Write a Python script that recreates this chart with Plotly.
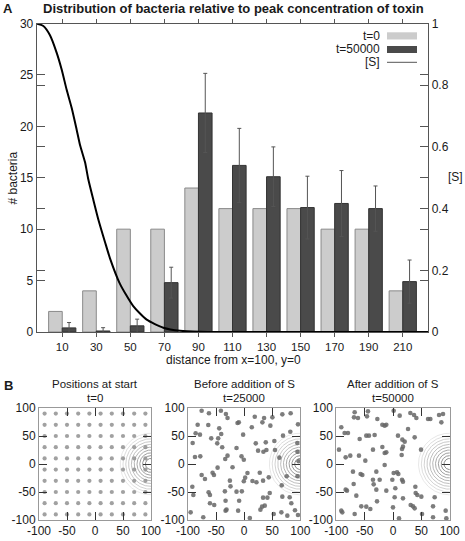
import numpy as np
import plotly.graph_objects as go

W, H = 465, 541

# ---------------- data: panel A ----------------
distance = [10, 30, 50, 70, 90, 110, 130, 150, 170, 190, 210]
count_t0 = [2, 4, 10, 10, 14, 12, 12, 12, 10, 10, 4]
count_t50000 = [0.4, 0.1, 0.6, 4.8, 21.3, 16.2, 15.1, 12.1, 12.5, 12.0, 4.9]
err_t50000 = [0.52, 0.32, 0.65, 1.5, 3.85, 3.6, 2.9, 3.05, 3.2, 2.2, 2.1]

s_x = [-5, -1.1, 2.8, 6.75, 9.7, 12.6, 15.6, 18.5, 20.4, 23.4, 25.3, 28.2, 31.2,
       35.1, 38.1, 43.9, 51.7, 59.6, 69.4, 79.2, 91.0, 110, 150, 225]
s_val = [1.0, 0.992, 0.962, 0.905, 0.850, 0.785, 0.725, 0.655, 0.607, 0.550, 0.495,
         0.430, 0.365, 0.292, 0.238, 0.156, 0.084, 0.040, 0.014, 0.004, 0.001, 0.0, 0.0, 0.0]

y_ticks = [0, 5, 10, 15, 20, 25, 30]
y2_ticks = [0, 0.2, 0.4, 0.6, 0.8, 1.0]
y2_labels = ["0", "0.2", "0.4", "0.6", "0.8", "1"]

# ---------------- data: panel B ----------------
grid_vals = [-90, -70, -50, -30, -10, 10, 30, 50, 70, 90]
b_ticks = [-100, -50, 0, 50, 100]
b_tick_labels = ["-100", "-50", "0", "50", "100"]

b2_x = [-75.7, -62.7, -41.4, -32.5, -29.6, -11.8, -9.5, 18.9, 35.5, 50.3, 68, 82.8,
        -82.8, -63.9, -44.4, 13.6, 32.5, 46.7, 95.9,
        -86.4, -78.7, -58.6, -46.2, -40.8, -1.8, 69.2, 82.2,
        -91.7, -47.9, -39.1, -13.6, 20.7, 38.5, 53.8, 94.7,
        24.8, 34.3, 39.6, 55,
        -87.6, -78.1, -33.7, -29.6, -4.7, -0.6, 62.7, 95, 97,
        -47.3, -20.7,
        -75.7, -56.2, -53.8, -69.8, 5.9, 27.8, 1.8, -0.6, 14.8, 21.9, 33.7, 43.8, -25.4, 75.7, 95,
        -92.3, -63.3, -60.9, -90.5, -34.3, -13.6, -4.1, -24.3, 45.6, 66.9,
        68, 81.1, 33.7, 41.4, -33.1, -8.9, -60.9, -53.3, 31.9, 36.7, 29, 84, -31.4,
        -95.3, -72.8, -33.1, -10.7, 10.1, 52.7, 76.9, 95.9, 66.3, 90.5]
b2_y = [95.2, 90.5, 95.2, 89.3, 82.1, 73.2, 74.4, 84.5, 82.1, 83.3, 88.7, 90.5,
        70.2, 69.6, 63.7, 65.5, 74.4, 68.5, 70.8,
        54.8, 52.4, 45.8, 45.8, 53.6, 52.4, 50.6, 57.7,
        37.5, 36.9, 29.8, 28.6, 36.9, 38.7, 41.1, 37.5,
        23.8, 22, 25, 25,
        12.5, 13.7, 8.9, 14.9, 13.7, 7.7, 11.3, 22, 5,
        -6.5, -5.9,
        -19.6, -15.5, -19.6, -26.8, -16.1, -15.5, -24.4, -30.9, -30.3, -32.7, -29.7, -23.8, -29.7, -22, -22,
        -40.5, -50.6, -55.3, -55.3, -48.8, -49.4, -48.8, -39.9, -51.8, -38.1,
        -58.3, -59.5, -60.1, -60.1, -65.5, -65.5, -70.2, -73.2, -76.2, -74.4, -81.5, -70.2, -81.5,
        -86.3, -95.2, -83.3, -83.3, -96.4, -89.3, -92.2, -91.1, -86.3, -82.7]

b3_x = [-67.6, -44.1, 1.2, 30.6, 37.1, 61.8, 65.9, 81.2, 88.2, 85.3,
        -68.8, -61.8, -45.9, -27.6, -18.8, -14.7, -11.8, 11.8, 41.2,
        -91.2, -85.3, -79.4, -47.1, -42.4, -32.4, -58.8, 8.8, 26.5, 16.5, 20.6, 17.6, 38.2,
        -95.3, -83.5, -75.3, -60, -48.8, -35.3, -18.8, -14.7, -11.8, 15.9, 15.3, -14.7, 49.4,
        -70.6, -57.1, -54.1, -29.4, 1.2, 7.1, 9.4,
        -69.4, -35.3, -34.1, -23.5, -1.2, 15.9, 17.6,
        -83.5, -81.2, -29.4, -11.8, 4.1, 39.4, 40, 42.9,
        -64.7, 17.6, 50, 73.5, 2.9,
        -55.9, -47.1, -40, -28.2, 0, 31.2, 35.3, 38.2, 70.6,
        -91.2, -89.4, -67.6, 10.6, 51.2, 70.6, 92.9, 94.1]
b3_y = [92.3, 94, 95.2, 91.1, 87.5, 80.4, 80.4, 87.5, 89.3, 74.4,
        83.3, 82.1, 85.1, 80.4, 70.2, 68.5, 70.2, 86.3, 82.1,
        65.5, 55.4, 55.4, 50.6, 50.6, 51.8, 44.6, 50.6, 62.5, 43.5, 39.9, 31, 47.6,
        25.6, 11.9, 14.9, 14.9, 6, 25.6, 30.4, 19.6, 20.8, 26.8, 16.1, -1.8, 25.6,
        -13.7, -17.8, -19.6, -13.7, -16.1, -14.9, -17.8,
        -35.7, -28, -36.3, -28, -28, -28, -31.5,
        -45.8, -47.6, -45.8, -47.6, -43.4, -40.5, -51.8, -55.3,
        -56.5, -61.3, -58.3, -59.5, -59.5,
        -75.6, -76.2, -80.3, -66.7, -77.4, -73.2, -75.6, -79.2, -75.6,
        -83.3, -86.3, -89.3, -97, -89.3, -95.2, -83.3, -97]

source_x, source_y = 100, 0
contour_radii = [10, 15, 20, 25, 30, 35, 40, 45, 50, 55]

FONT = "Liberation Sans, Arial, Helvetica, sans-serif"
TXT = "#1a1a1a"


def px(x):
    return x / W


def py(y):
    return 1 - y / H


fig = go.Figure()

# ---------------- panel A ----------------
fig.add_trace(go.Bar(
    x=distance, y=count_t0, width=8, offset=-8,
    marker=dict(color="#cccccc", line=dict(color="#8a8a8a", width=1)),
    xaxis="x", yaxis="y", showlegend=False, name="t=0"))
fig.add_trace(go.Bar(
    x=distance, y=count_t50000, width=8, offset=0,
    marker=dict(color="#4a4a4a", line=dict(color="#333333", width=1)),
    error_y=dict(type="data", array=err_t50000, color="#555555", thickness=1, width=2),
    xaxis="x", yaxis="y", showlegend=False, name="t=50000"))
fig.add_trace(go.Scatter(
    x=s_x, y=s_val, mode="lines",
    line=dict(color="black", width=2, shape="spline", smoothing=0.6),
    xaxis="x", yaxis="y2", showlegend=False, name="[S]"))

# ---------------- panel B ----------------
theta = np.linspace(0, 2 * np.pi, 181)
gx = [gxv for gyv in grid_vals for gxv in grid_vals]
gy = [gyv for gyv in grid_vals for gxv in grid_vals]
panels = [("x3", "y3", gx, gy, "#909090", 4.2),
          ("x4", "y4", b2_x, b2_y, "#666666", 4.6),
          ("x5", "y5", b3_x, b3_y, "#666666", 4.6)]
n_r = len(contour_radii)
for xa, ya, xs, ys, col, sz in panels:
    for i, r in enumerate(contour_radii):
        g = int(110 + (225 - 110) * i / (n_r - 1))
        fig.add_trace(go.Scatter(
            x=source_x + r * np.cos(theta), y=source_y + r * np.sin(theta),
            mode="lines", line=dict(color=f"rgb({g},{g},{g})", width=0.8),
            xaxis=xa, yaxis=ya, showlegend=False, hoverinfo="skip"))
    fig.add_trace(go.Scatter(
        x=xs, y=ys, mode="markers",
        marker=dict(color=col, size=sz, opacity=0.85, line=dict(width=0)),
        xaxis=xa, yaxis=ya, showlegend=False))

axis_font = dict(family=FONT, size=12, color=TXT)
xtick_font = dict(family=FONT, size=11.5, color=TXT)

layout = dict(
    width=W, height=H, margin=dict(l=0, r=0, t=0, b=0, autoexpand=False),
    paper_bgcolor="white", plot_bgcolor="white",
    barmode="overlay", font=dict(family=FONT, size=12, color=TXT),
    xaxis=dict(domain=[px(36.7), px(428.3)], range=[-5, 225], tickvals=distance,
               ticks="outside", ticklen=4, tickcolor="#555", showline=True,
               linecolor="#555", linewidth=1, mirror="ticks", showgrid=False,
               zeroline=False, anchor="y", tickfont=xtick_font, automargin=False),
    yaxis=dict(domain=[py(332), py(23.5)], range=[0, 30], tickvals=y_ticks,
               ticks="inside", ticklen=8, tickcolor="#555", showline=True,
               linecolor="#555", linewidth=1, mirror="ticks", showgrid=False,
               zeroline=False, anchor="x", tickfont=axis_font, automargin=False),
    yaxis2=dict(overlaying="y", side="right", range=[0, 1], tickvals=y2_ticks,
                ticktext=y2_labels, ticks="inside", ticklen=8, tickcolor="#555",
                showline=True, linecolor="#555", linewidth=1, mirror="ticks",
                showgrid=False, zeroline=False, anchor="x", tickfont=axis_font,
                automargin=False),
)

b_domains = [(39, 151), (188, 300.3), (336.3, 449.7)]
for k, (x0, x1) in zip([3, 4, 5], b_domains):
    layout[f"xaxis{k}"] = dict(domain=[px(x0), px(x1)], range=[-100, 100], tickvals=b_ticks,
                               ticktext=b_tick_labels,
                               ticks="inside", ticklen=8, tickcolor="#333", showline=True,
                               linecolor="#999", linewidth=1, mirror="ticks", showgrid=False,
                               zeroline=False, anchor=f"y{k}", tickfont=axis_font,
                               automargin=False)
    layout[f"yaxis{k}"] = dict(domain=[py(520), py(408)], range=[-100, 100], tickvals=b_ticks,
                               ticktext=b_tick_labels,
                               ticks="inside", ticklen=8, tickcolor="#333", showline=True,
                               linecolor="#999", linewidth=1, mirror="ticks", showgrid=False,
                               zeroline=False, anchor=f"x{k}", tickfont=axis_font,
                               automargin=False)

fig.update_layout(**layout)


def ann(text, x, y, size=12, bold=False, angle=0, xanchor="center", yanchor="middle"):
    fig.add_annotation(text=f"<b>{text}</b>" if bold else text, x=px(x), y=py(y),
                       xref="paper", yref="paper", showarrow=False, textangle=angle,
                       xanchor=xanchor, yanchor=yanchor, borderpad=0,
                       font=dict(family=FONT, size=size, color=TXT))


ann("A", 8, 9, size=13, bold=True)
ann("Distribution of bacteria relative to peak concentration of toxin", 234, 9, size=13, bold=True)
ann("# bacteria", 12.5, 178, angle=-90)
ann("[S]", 455, 177)
ann("distance from x=100, y=0", 233, 359.5)
ann("B", 8, 385, size=13, bold=True)
for cx, t1, t2 in [(95, "Positions at start", "t=0"),
                   (244, "Before addition of S", "t=25000"),
                   (393, "After addition of S", "t=50000")]:
    ann(t1, cx, 391, size=11.5, yanchor="bottom")
    ann(t2, cx, 390.5, size=11.5, yanchor="top")

# legend (text left of sample, as in reference)
ann("t=0", 381, 35.7, xanchor="right")
ann("t=50000", 381, 49.3, xanchor="right")
ann("[S]", 381, 62.3, xanchor="right")
fig.add_shape(type="rect", xref="paper", yref="paper", x0=px(387), x1=px(417),
              y0=py(39.5), y1=py(32.3), fillcolor="#cccccc", line=dict(width=0))
fig.add_shape(type="rect", xref="paper", yref="paper", x0=px(387), x1=px(417),
              y0=py(53), y1=py(46), fillcolor="#4a4a4a", line=dict(width=0))
fig.add_shape(type="line", xref="paper", yref="paper", x0=px(387), x1=px(417),
              y0=py(62.3), y1=py(62.3), line=dict(color="#555", width=1))

fig.write_html("out.html",
               config=dict(displayModeBar=False),
               post_script="document.body.style.margin='0px';document.body.style.overflow='hidden';")
